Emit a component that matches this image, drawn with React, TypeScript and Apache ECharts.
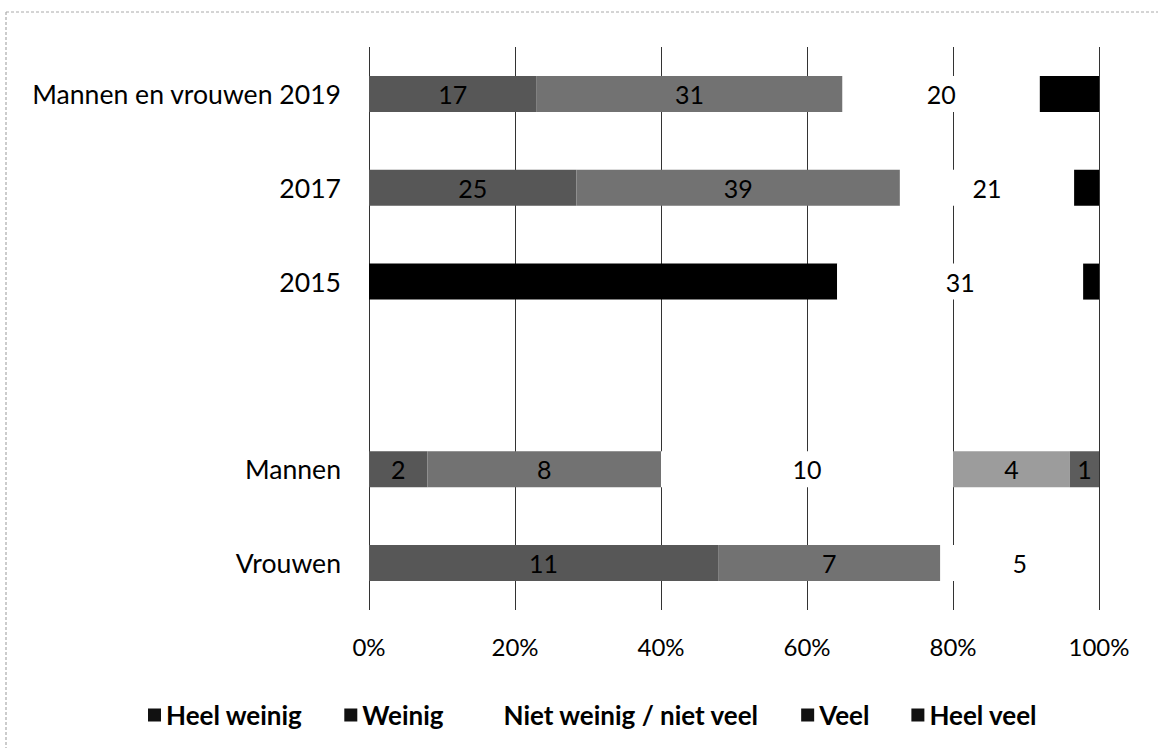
import React, { useEffect, useRef } from "react";
import * as echarts from "echarts";

// ---- Data (counts of respondents; bars are shown as share of each row) ----
const categories = ["Mannen en vrouwen 2019", "2017", "2015", "", "Mannen", "Vrouwen"];
const seriesNames = ["Heel weinig", "Weinig", "Niet weinig / niet veel", "Veel", "Heel veel"];
const heelWeinig = [17, 25, 59, null, 2, 11];
const weinig = [31, 39, 0, null, 8, 7];
const nietWeinigNietVeel = [20, 21, 31, null, 10, 5];
const veel = [0, 0, 0, null, 4, 0];
const heelVeel = [6, 3, 2, null, 1, 0];
const xTickStep = 20;

// ---- Styling (kept separate from the data) ----
const FONT = "Lato";
const seriesColors = ["#575757", "#727272", "#ffffff", "#9c9c9c", "#5c5c5c"];
const legendIconColors = ["#111111", "#111111", "#ffffff", "#111111", "#111111"];
// segments that appear solid black in the (scanned) reference: [series, category]
const blackCells = [
  [0, 2],
  [4, 0],
  [4, 1],
  [4, 2],
];

export default function App() {
  const ref = useRef<HTMLDivElement>(null);

  useEffect(() => {
    if (!ref.current) return;
    const chart = echarts.init(ref.current, undefined, { renderer: "svg" });
    const all = [heelWeinig, weinig, nietWeinigNietVeel, veel, heelVeel];
    const totals = categories.map((_, ci) =>
      all.reduce((s, arr) => s + (arr[ci] == null ? 0 : (arr[ci] as number)), 0)
    );
    const isBlack = (si: number, ci: number) =>
      blackCells.some(([s, c]) => s === si && c === ci);

    const series = all.map((arr, si) => ({
      name: seriesNames[si],
      type: "bar",
      stack: "total",
      barWidth: 36,
      itemStyle: { color: seriesColors[si] },
      label: {
        show: true,
        position: "inside",
        color: "#000",
        fontFamily: FONT,
        fontSize: 25,
        formatter: (p: any) => (p.data && p.data.count != null ? String(p.data.count) : ""),
      },
      data: arr.map((v, ci) => {
        if (v == null || totals[ci] === 0) return "-";
        const black = isBlack(si, ci);
        return {
          value: ((v as number) / totals[ci]) * 100,
          count: v,
          itemStyle: black ? { color: "#000" } : undefined,
          label: { show: (v as number) > 0 && !black },
        };
      }),
    }));

    chart.setOption({
      animation: false,
      backgroundColor: "#ffffff",
      textStyle: { fontFamily: FONT },
      grid: { left: 369, right: 59, top: 47, bottom: 138, containLabel: false },
      xAxis: {
        type: "value",
        min: 0,
        max: 100,
        interval: xTickStep,
        axisLine: { show: false },
        axisTick: { show: false },
        axisLabel: {
          formatter: "{value}%",
          color: "#000",
          fontFamily: FONT,
          fontSize: 24,
          margin: 24,
        },
        splitLine: { show: true, lineStyle: { color: "#333", width: 1 } },
      },
      yAxis: {
        type: "category",
        inverse: true,
        data: categories,
        axisLine: { show: false },
        axisTick: { show: false },
        axisLabel: { color: "#000", fontFamily: FONT, fontSize: 26.6, margin: 28 },
      },
      legend: {
        left: 143,
        top: 697,
        icon: "rect",
        itemWidth: 13,
        itemHeight: 13,
        itemGap: 42,
        textStyle: { color: "#000", fontFamily: FONT, fontSize: 26, fontWeight: "bold" },
        data: seriesNames.map((n, i) => ({ name: n, itemStyle: { color: legendIconColors[i] } })),
      },
      graphic: [
        { type: "line", shape: { x1: 6, y1: 12, x2: 6, y2: 748 }, style: { stroke: "#999", lineWidth: 1, lineDash: [3, 2] } },
        { type: "line", shape: { x1: 6, y1: 12, x2: 1158, y2: 12 }, style: { stroke: "#aaa", lineWidth: 1, lineDash: [3, 2] } },
      ],
      series,
    });
    return () => chart.dispose();
  }, []);

  return (
    <div
      ref={ref}
      style={{ position: "absolute", left: 0, top: 0, width: 1158, height: 748, background: "#fff" }}
    />
  );
}
